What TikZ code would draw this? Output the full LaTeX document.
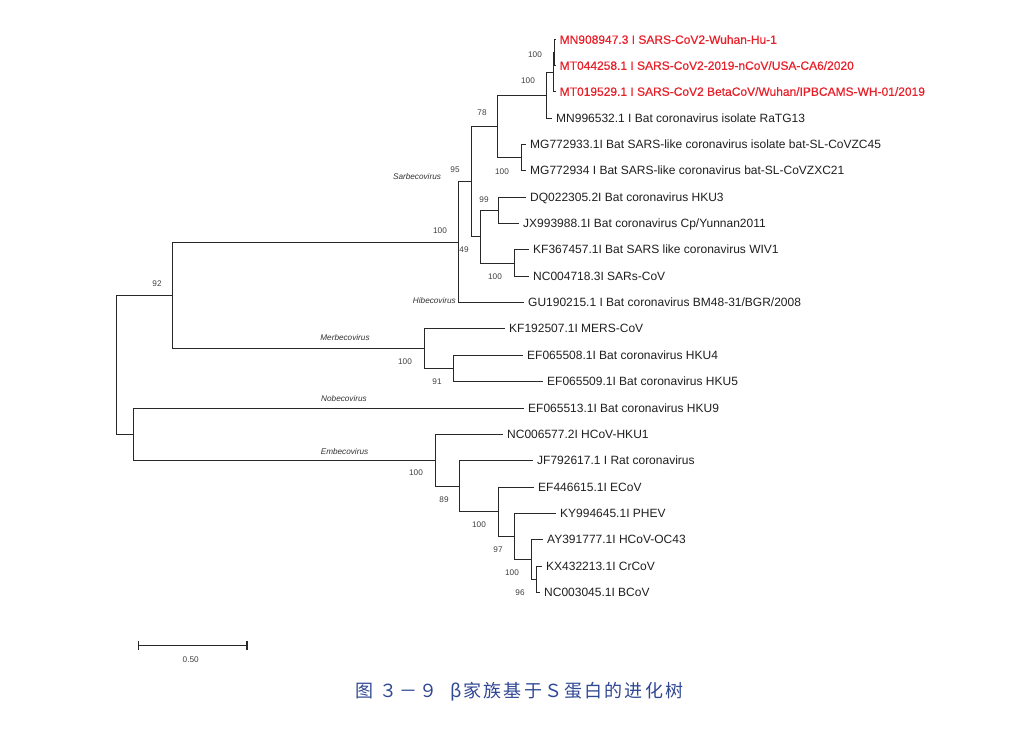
\documentclass[tikz,border=0pt]{standalone}
\usepackage{fontspec}
\setmainfont{Liberation Sans}
\newfontfamily\redfont[FakeBold=0.6]{Liberation Sans}
\newfontfamily\capfont[LetterSpace=12]{Noto Sans CJK SC}
\usetikzlibrary{arrows.meta}
\definecolor{treeline}{RGB}{40,40,40}
\definecolor{redlab}{RGB}{232,32,42}
\definecolor{capblue}{RGB}{48,72,148}
\tikzset{
  br/.style={draw=treeline, line width=1.45pt},
  leaf/.style={anchor=west, inner sep=0pt, xshift=4pt, font=\fontsize{12}{12}\selectfont, text=black!88, text height=8.6pt, text depth=0pt},
  redleaf/.style={leaf, text=redlab, font=\redfont\fontsize{12}{12}\selectfont},
  boot/.style={inner sep=0pt, font=\fontsize{8.2}{8.2}\selectfont, text=black!75},
  genus/.style={inner sep=0pt, font=\fontsize{8.2}{8.2}\selectfont\itshape, text=black!80},
}
\begin{document}
\begin{tikzpicture}[x=1pt, y=-1pt]
\useasboundingbox (0,0) rectangle (1018,746);
% internal nodes
\coordinate (root) at (116.5,364.5);
\coordinate (nS) at (172.5,295.5);
\coordinate (nA) at (458.5,242.5);
\coordinate (n95) at (471.5,181.5);
\coordinate (n78) at (497.5,126.5);
\coordinate (nR) at (546.5,95.5);
\coordinate (n123) at (553.5,72.5);
\coordinate (n12) at (554.5,52.5);
\coordinate (nMG) at (521.5,157.5);
\coordinate (nX) at (480.5,236.5);
\coordinate (n99) at (498.5,210.5);
\coordinate (nKN) at (514.5,263.5);
\coordinate (nM) at (424.5,348.5);
\coordinate (n45) at (453.5,368.5);
\coordinate (nN) at (133.5,434.5);
\coordinate (nEm) at (435.5,460.5);
\coordinate (n89) at (459.5,486.5);
\coordinate (nB) at (498.5,511.5);
\coordinate (n97) at (514.5,536.5);
\coordinate (nC) at (531.5,559.5);
\coordinate (n96) at (536.5,579.5);
% leaf ends
\coordinate (e1) at (555.5,39.5);
\coordinate (e2) at (555.5,65.5);
\coordinate (e3) at (555.5,91.5);
\coordinate (e4) at (552,118.5);
\coordinate (e5) at (526,144.5);
\coordinate (e6) at (526,170.5);
\coordinate (e7) at (526,197.5);
\coordinate (e8) at (519,223.5);
\coordinate (e9) at (529,249.5);
\coordinate (e10) at (529,276.5);
\coordinate (e11) at (524,302.5);
\coordinate (e12) at (505,328.5);
\coordinate (e13) at (523,355.5);
\coordinate (e14) at (543,381.5);
\coordinate (e15) at (524,408.5);
\coordinate (e16) at (503,434.5);
\coordinate (e17) at (533,460.5);
\coordinate (e18) at (534,487.5);
\coordinate (e19) at (556,513.5);
\coordinate (e20) at (543,539.5);
\coordinate (e21) at (542,566.5);
\coordinate (e22) at (540,592.5);
% branches
\foreach \p/\c in {root/nS, root/nN, nS/nA, nS/nM, nA/n95, nA/e11, n95/n78, n95/nX,
  n78/nR, n78/nMG, nR/n123, nR/e4, n123/n12, n123/e3, n12/e1, n12/e2, nMG/e5, nMG/e6,
  nX/n99, nX/nKN, n99/e7, n99/e8, nKN/e9, nKN/e10, nM/e12, nM/n45, n45/e13, n45/e14,
  nN/e15, nN/nEm, nEm/e16, nEm/n89, n89/e17, n89/nB, nB/e18, nB/n97, n97/e19, n97/nC,
  nC/e20, nC/n96, n96/e21, n96/e22}
  \draw[br] (\p) |- (\c);
% leaf labels
\node[redleaf] (t1) at (e1) {MN908947.3 I SARS-CoV2-Wuhan-Hu-1};
\node[redleaf] (t2) at (e2) {MT044258.1 I SARS-CoV2-2019-nCoV/USA-CA6/2020};
\node[redleaf] (t3) at (e3) {MT019529.1 I SARS-CoV2 BetaCoV/Wuhan/IPBCAMS-WH-01/2019};
\node[leaf] (t4) at (e4) {MN996532.1 I Bat coronavirus isolate RaTG13};
\node[leaf] (t5) at (e5) {MG772933.1I Bat SARS-like coronavirus isolate bat-SL-CoVZC45};
\node[leaf] (t6) at (e6) {MG772934 I Bat SARS-like coronavirus bat-SL-CoVZXC21};
\node[leaf] (t7) at (e7) {DQ022305.2I Bat coronavirus HKU3};
\node[leaf] (t8) at (e8) {JX993988.1I Bat coronavirus Cp/Yunnan2011};
\node[leaf] (t9) at (e9) {KF367457.1I Bat SARS like coronavirus WIV1};
\node[leaf] (t10) at (e10) {NC004718.3I SARs-CoV};
\node[leaf] (t11) at (e11) {GU190215.1 I Bat coronavirus BM48-31/BGR/2008};
\node[leaf] (t12) at (e12) {KF192507.1I MERS-CoV};
\node[leaf] (t13) at (e13) {EF065508.1I Bat coronavirus HKU4};
\node[leaf] (t14) at (e14) {EF065509.1I Bat coronavirus HKU5};
\node[leaf] (t15) at (e15) {EF065513.1I Bat coronavirus HKU9};
\node[leaf] (t16) at (e16) {NC006577.2I HCoV-HKU1};
\node[leaf] (t17) at (e17) {JF792617.1 I Rat coronavirus};
\node[leaf] (t18) at (e18) {EF446615.1I ECoV};
\node[leaf] (t19) at (e19) {KY994645.1I PHEV};
\node[leaf] (t20) at (e20) {AY391777.1I HCoV-OC43};
\node[leaf] (t21) at (e21) {KX432213.1I CrCoV};
\node[leaf] (t22) at (e22) {NC003045.1I BCoV};
% bootstrap values
\node[boot] (b1) at (535,55) {100};
\node[boot] (b2) at (528,81) {100};
\node[boot] (b3) at (482,113) {78};
\node[boot] (b4) at (502,172) {100};
\node[boot] (b5) at (455,170) {95};
\node[boot] (b6) at (440,231) {100};
\node[boot] (b7) at (464,250) {49};
\node[boot] (b8) at (484,200) {99};
\node[boot] (b9) at (495,277) {100};
\node[boot] (b10) at (157,284) {92};
\node[boot] (b11) at (405,362) {100};
\node[boot] (b12) at (437,382) {91};
\node[boot] (b13) at (416,473) {100};
\node[boot] (b14) at (444,500) {89};
\node[boot] (b15) at (479,525) {100};
\node[boot] (b16) at (498,550) {97};
\node[boot] (b17) at (512,573) {100};
\node[boot] (b18) at (520,593) {96};
% genus labels
\node[genus] (g1) at (417,177) {Sarbecovirus};
\node[genus, anchor=east] (g2) at (456,301) {Hibecovirus};
\node[genus] (g3) at (345,338) {Merbecovirus};
\node[genus] (g4) at (344,399) {Nobecovirus};
\node[genus] (g5) at (344.5,452) {Embecovirus};
% scale bar
\coordinate (sb1) at (137.5,645.5);
\coordinate (sb2) at (247.5,645.5);
\draw[br, {Bar[width=9pt]}-{Bar[width=9pt]}] (sb1) -- (sb2);
\node[boot] (sbl) at (190.7,659.3) {0.50};
% caption
\node[anchor=west, inner sep=0pt, text=capblue, font=\capfont\fontsize{18}{18}\selectfont] (cap) at (355,691.7) {图 ３－９ \ β家族基于Ｓ蛋白的进化树};
\end{tikzpicture}
\end{document}
